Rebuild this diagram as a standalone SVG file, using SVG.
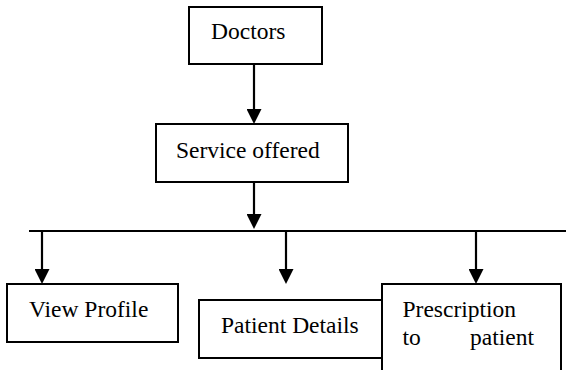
<svg xmlns="http://www.w3.org/2000/svg" width="566" height="370" viewBox="0 0 566 370">
  <style>
    .box { fill: #ffffff; stroke: #000000; stroke-width: 2; }
    .label { font-family: "Liberation Serif", "Times New Roman", serif; font-size: 23.5px; fill: #000000; }
    .wire { fill: none; stroke: #000000; stroke-width: 2.2; }
  </style>
  <defs>
    <marker id="arrow" viewBox="0 0 15 15" markerWidth="15" markerHeight="15" markerUnits="userSpaceOnUse" refX="0" refY="7.5" orient="auto">
      <path d="M0,0 L15,7.5 L0,15 Z" fill="#000000"/>
    </marker>
  </defs>
  <rect width="566" height="370" fill="#ffffff"/>

  <g id="connectors">
    <path class="wire" d="M254,65 V109" marker-end="url(#arrow)"/>
    <path class="wire" d="M254,182 V214" marker-end="url(#arrow)"/>
    <path class="wire" d="M29,231 H566"/>
    <path class="wire" d="M42,231 V269" marker-end="url(#arrow)"/>
    <path class="wire" d="M286,231 V269" marker-end="url(#arrow)"/>
    <path class="wire" d="M476,231 V269" marker-end="url(#arrow)"/>
  </g>

  <g id="doctors">
    <rect class="box" x="189" y="7" width="133" height="57"/>
    <text class="label" x="211" y="39">Doctors</text>
  </g>

  <g id="service-offered">
    <rect class="box" x="156" y="124" width="192" height="58"/>
    <text class="label" x="176" y="158">Service offered</text>
  </g>

  <g id="view-profile">
    <rect class="box" x="7" y="284" width="171" height="58"/>
    <text class="label" x="29" y="317">View Profile</text>
  </g>

  <g id="patient-details">
    <rect class="box" x="199" y="300" width="190" height="58"/>
    <text class="label" x="221" y="333">Patient Details</text>
  </g>

  <g id="prescription">
    <rect class="box" x="382" y="284" width="179" height="100"/>
    <text class="label" x="402.5" y="317">Prescription</text>
    <text class="label" y="345"><tspan x="402.5">to</tspan><tspan x="470">patient</tspan></text>
  </g>
</svg>
